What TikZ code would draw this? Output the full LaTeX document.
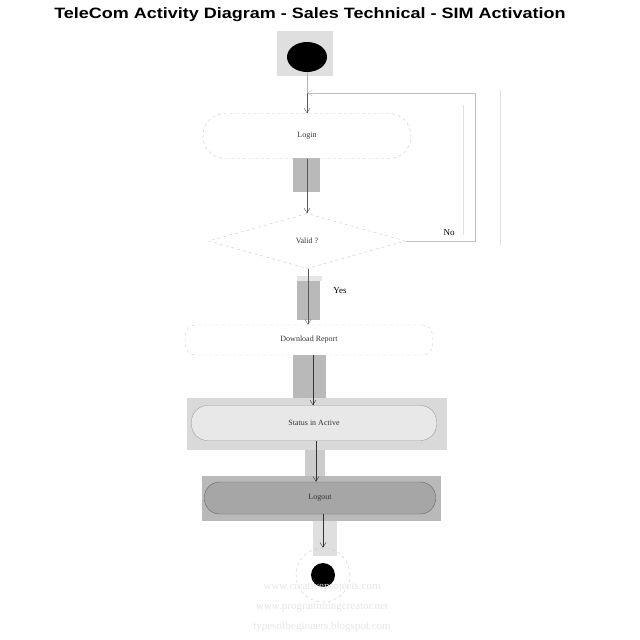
\documentclass[tikz,border=0pt]{standalone}
\usepackage{fontspec}
\setmainfont{Liberation Serif}
\newfontfamily\titlefont{Liberation Sans}
\usetikzlibrary{shapes.geometric,arrows.meta}
\tikzset{
  flow/.style={draw=gray!70!black, -{Straight Barb[length=5pt,width=6pt]}},
  shade/.style={fill=gray!55, draw=none},
  lbl/.style={font=\fontsize{8}{9}\selectfont, text=black!80},
  wm/.style={text=gray!20, font=\fontsize{11}{12}\selectfont}
}
\begin{document}
\begin{tikzpicture}[x=1pt,y=-1pt]
\useasboundingbox (0,0) rectangle (640,640);
\node[font=\titlefont\bfseries\fontsize{15}{17}\selectfont] (title) at (310,15) {\scalebox{1.2}[1]{TeleCom Activity Diagram - Sales Technical - SIM Activation}};
% shaded backgrounds
\fill[gray!25] (277,31) rectangle (333,76);
\fill[shade] (293,158) rectangle (320,192);
\fill[shade] (297,280) rectangle (320,320);
\fill[gray!20] (297,276) rectangle (322,281);
\fill[shade] (293,355) rectangle (326,400);
\fill[gray!30] (187,398) rectangle (447,450);
\fill[gray!40] (305,450) rectangle (325,476);
\fill[gray!55] (202,476) rectangle (441,521);
\fill[gray!25] (313,521) rectangle (337,556);
% nodes
\node[ellipse, fill=black, minimum width=40pt, minimum height=30pt, inner sep=0pt] (start) at (307,57) {};
\coordinate (merge) at (307,93);
\node[draw=gray!45, dashed, rounded corners=22pt, minimum width=208pt, minimum height=45pt, lbl] (login) at (307,136) {Login};
\node[diamond, draw=gray!45, dashed, aspect=3.6, minimum width=197pt, minimum height=55pt, inner sep=0pt, lbl] (valid) at (307,241) {Valid ?};
\node[draw=gray!40, dashed, rounded corners=10pt, minimum width=247pt, minimum height=30pt, lbl] (report) at (309,340) {Download Report};
\node[draw=gray!75, fill=gray!18, rounded corners=16pt, minimum width=245pt, minimum height=35pt, lbl] (active) at (314,423) {Status in Active};
\node[draw=gray!80!black, fill=gray!70, rounded corners=15pt, minimum width=231pt, minimum height=32pt, lbl] (logout) at (320,498) {Logout};
\node[circle, draw=gray!45, dashed, minimum size=54pt, inner sep=0pt] (endo) at (323,575) {};
\node[circle, fill=black, minimum size=24pt, inner sep=0pt] (endi) at (323,575) {};
\coordinate (loopB) at (475,93);
% connectors
\draw[gray!60] (start) -- (merge);
\draw[flow] (merge) -- (login);
\draw[flow] (login) -- (valid);
\draw[gray!50] (valid.east) -- (valid.east -| loopB) -- (loopB);
\draw[flow, draw=gray!50] (loopB) -- (merge);
\draw[gray!25] (463,105) -- (463,235);
\draw[gray!25] (500,90) -- (500,245);
\node[font=\fontsize{9}{10}\selectfont, anchor=south] (no) at (449,239) {No};
\draw[flow] (valid.south -| 308,0) -- (report.north -| 308,0);
\node[font=\fontsize{9}{10}\selectfont] (yes) at (340,291) {Yes};
\draw[flow, draw=black!80] (report.south -| 313,0) -- (active.north -| 313,0);
\draw[flow, draw=black!80] (active.south -| 316,0) -- (logout.north -| 316,0);
\draw[flow, draw=black!80] (logout.south -| 323,0) -- (endo.north);
% watermark
\node[wm] (w1) at (322,587) {www.creativeprojects.com};
\node[wm] (w2) at (322,607) {www.programmingcreator.net};
\node[wm] (w3) at (322,627) {typesofbeginners.blogspot.com};
\end{tikzpicture}
\end{document}
